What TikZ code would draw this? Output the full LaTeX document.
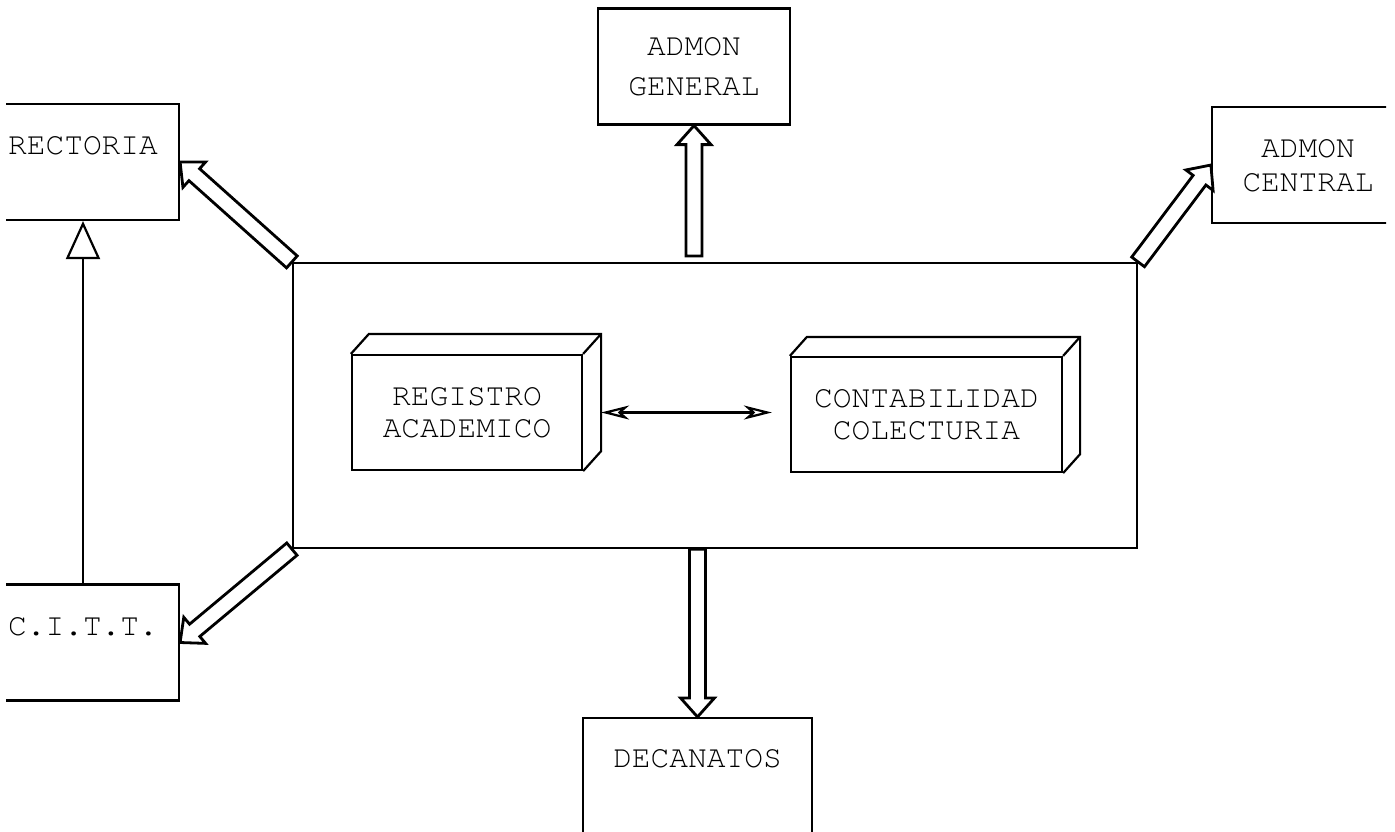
\documentclass[tikz,border=0pt]{standalone}
\usepackage[T1]{fontenc}
\usetikzlibrary{arrows.meta,calc,positioning}

\newcommand{\typefont}{\fontfamily{pcr}\fontsize{15.6}{16}\selectfont}

\tikzset{
  boxline/.style={line width=1.1pt, line join=miter},
  box/.style={draw, boxline, minimum width=96pt, minimum height=58pt,
    inner sep=0pt, font=\typefont, align=center},
  lbl/.style={font=\typefont, inner sep=0pt},
  hollow/.style={draw, fill=white, line width=1.4pt, line join=miter},
  dblarrow/.style={line width=1.1pt,
    {Stealth[open,length=14pt,width=7pt,inset=4pt]}-{Stealth[open,length=14pt,width=7pt,inset=4pt]}},
  opentri/.style={line width=1.1pt, -{Triangle[open,length=19pt,width=17pt]}}
}

% hollow block arrow from #1 to #2
\newcommand{\hollowarrow}[2]{%
  \coordinate (ha-t) at (#1);
  \coordinate (ha-b) at (#2);
  \coordinate (ha-h) at ($(ha-b)!9.5pt!(ha-t)$);
  \draw[hollow] ($(ha-t)!4pt!90:(ha-b)$) -- ($(ha-h)!4pt!90:(ha-b)$)
    -- ($(ha-h)!8.5pt!90:(ha-b)$) -- (ha-b) -- ($(ha-h)!8.5pt!-90:(ha-b)$)
    -- ($(ha-h)!4pt!-90:(ha-b)$) -- ($(ha-t)!4pt!-90:(ha-b)$) -- cycle;
}

\begin{document}
\begin{tikzpicture}[x=0.5pt,y=-0.5pt]
  \useasboundingbox (0,0) rectangle (1395,831);
  \clip (6,0) rectangle (1386,831);

  % central block
  \node[box, minimum width=422pt, minimum height=142.5pt] (central) at (715,405.5) {};
  \node[box, minimum width=115pt, minimum height=57.5pt] (reg) at (467,412.5) {REGISTRO\\ACADEMICO};
  \node[box, minimum width=135.5pt, minimum height=57.5pt] (cont) at (926.5,414.5) {CONTABILIDAD\\COLECTURIA};
  \foreach \b/\dx/\dy in {reg/18/-20,cont/17/-19} {
    \draw[boxline] (\b.north west) -- ++(\dx,\dy) -- ($(\b.north east)+(\dx,\dy)$)
      -- ($(\b.south east)+(\dx,\dy)$) -- (\b.south east);
    \draw[boxline] (\b.north east) -- ++(\dx,\dy);
  }
  \draw[dblarrow, shorten >=9pt] ([xshift=9pt]reg.east) -- (reg.east -| cont.west);

  % outer boxes
  \node[box] (rect) at (83,162) {};
  \node[lbl, anchor=base] (rectlbl) at (83,154) {RECTORIA};
  \node[box] (citt) at (83,642.5) {};
  \node[lbl, anchor=base] (cittlbl) at (83,635) {C.I.T.T.};
  \node[box] (admgen) at (694,66.5) {ADMON\\[4pt]GENERAL};
  \node[box] (admcen) at (1308,165) {ADMON\\[1pt]CENTRAL};
  \node[box, minimum width=114.5pt] (deca) at (697.5,776) {};
  \node[lbl, anchor=base] (decalbl) at (697.5,767) {DECANATOS};

  \draw[opentri] (citt.north) -- (rect.south);

  \hollowarrow{central.north west}{rect.east}
  \hollowarrow{central.south west}{citt.east}
  \hollowarrow{central.north east}{admcen.west}
  \hollowarrow{[yshift=3pt]admgen.south |- central.north}{admgen.south}
  \hollowarrow{deca.north |- central.south}{deca.north}
\end{tikzpicture}
\end{document}
